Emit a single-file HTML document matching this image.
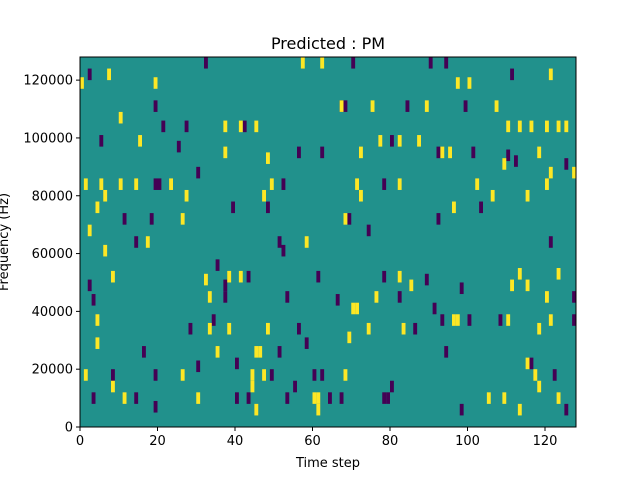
<!DOCTYPE html>
<html><head><meta charset="utf-8"><style>
html,body{margin:0;padding:0;background:#fff;}
svg{display:block;font-family:"DejaVu Sans","Liberation Sans",sans-serif;}
</style></head><body>
<svg id="chart" width="640" height="480" xmlns="http://www.w3.org/2000/svg">
<text x="328" y="49" text-anchor="middle" font-size="16">Predicted : PM</text>
<rect x="80" y="57" width="496" height="370" fill="#21918c"/>
<g id="cells"></g>
<rect x="80" y="57" width="496" height="370" fill="none" stroke="#000" stroke-width="1"/>
<g id="xaxis"></g>
<g id="yaxis"></g>
<text x="328" y="467" text-anchor="middle" font-size="13">Time step</text>
<text transform="translate(8,242) rotate(-90)" text-anchor="middle" font-size="13">Frequency (Hz)</text>
</svg>
<script>
const purpleT=[2,32,70,90,94,111,19,67,68,84,99,27,5,25,21,42,56,62,80,92,101,110,112,125,30,19,20,52,78,39,48,11,18,69,92,103,74,14,121,51,52,35,37,2,43,61,78,89,98,3,37,53,66,82,91,93,100,108,127,127,28,56,86,34,16,58,94,51,30,40,116,19,49,55,60,62,80,8,122,3,14,40,43,53,64,67,78,79,125,19,98];
const purpleF=[122,126,126,126,126,122,111,111,111,111,111,104,99,97,104,104,95,95,99,95,95,94,92,91,88,84,84,84,84,76,76,72,72,72,72,76,68,64,64,64,61,56,49,49,52,52,52,51,48,44,45,45,44,45,41,37,37,37,37,45,34,34,34,37,26,29,26,26,21,22,22,18,18,14,18,18,14,18,18,10,10,10,10,10,10,10,10,10,6,7,6];
const yellowT=[0,7,19,57,62,97,100,121,10,67,75,89,107,15,37,41,45,72,77,82,87,93,95,110,113,116,120,123,125,109,118,1,5,6,10,14,23,27,47,49,48,71,72,82,102,106,120,121,127,4,37,26,68,96,115,2,17,6,58,41,38,8,32,82,113,123,33,111,115,4,120,70,71,76,85,96,110,33,38,48,69,74,83,97,118,121,4,35,45,46,44,44,47,68,115,117,11,30,45,61,60,61,105,109,113,118,26,8,123,1];
const yellowF=[119,122,119,126,126,119,119,122,107,111,111,111,111,99,104,104,104,95,99,99,99,95,95,104,104,104,104,104,104,91,95,84,84,80,84,84,84,80,80,84,93,84,80,84,84,80,84,88,88,76,95,72,72,76,80,68,64,61,64,52,52,52,51,52,53,53,45,49,49,37,45,41,41,45,49,37,37,34,34,34,31,34,34,37,34,37,29,26,26,26,18,14,18,18,22,18,10,10,6,10,10,6,10,10,6,14,18,14,10,18];
const xTicks=[0,20,40,60,80,100,120];
const yTicks=[0,20000,40000,60000,80000,100000,120000];
const NS="http://www.w3.org/2000/svg";
const x0=80,x1=576,y0=427,y1=57,tMax=128,fMax=128000,hBins=4;
function xs(t){return x0+(x1-x0)*t/tMax;}
function ys(f){return y0-(y0-y1)*f/fMax;}
const cells=document.getElementById('cells');
function draw(T,F,color,name){
  for(let i=0;i<T.length;i++){
    const r=document.createElementNS(NS,'rect');
    const fc=F[i]*1000;
    r.setAttribute('x',xs(T[i]));
    r.setAttribute('width',xs(1)-xs(0));
    r.setAttribute('y',ys(fc+hBins*500));
    r.setAttribute('height',ys(0)-ys(hBins*1000));
    r.setAttribute('fill',color);
    
    
    cells.appendChild(r);
  }
}
draw(purpleT,purpleF,'#440154','cell-negative');
draw(yellowT,yellowF,'#fde725','cell-positive');
const xa=document.getElementById('xaxis');
xTicks.forEach(v=>{
  const l=document.createElementNS(NS,'line');
  l.setAttribute('x1',xs(v));l.setAttribute('x2',xs(v));
  l.setAttribute('y1',y0);l.setAttribute('y2',y0+4);
  l.setAttribute('stroke','#000');
  
  
  xa.appendChild(l);
  const t=document.createElementNS(NS,'text');
  t.setAttribute('x',xs(v));t.setAttribute('y',y0+18);
  t.setAttribute('text-anchor','middle');t.setAttribute('font-size','13');
  t.textContent=v;
  
  
  xa.appendChild(t);
});
const ya=document.getElementById('yaxis');
yTicks.forEach(v=>{
  const l=document.createElementNS(NS,'line');
  l.setAttribute('x1',x0-4);l.setAttribute('x2',x0);
  l.setAttribute('y1',ys(v));l.setAttribute('y2',ys(v));
  l.setAttribute('stroke','#000');
  
  
  ya.appendChild(l);
  const t=document.createElementNS(NS,'text');
  t.setAttribute('x',x0-7);t.setAttribute('y',ys(v)+4.5);
  t.setAttribute('text-anchor','end');t.setAttribute('font-size','13');
  t.textContent=v;
  
  
  ya.appendChild(t);
});
</script>
</body></html>
